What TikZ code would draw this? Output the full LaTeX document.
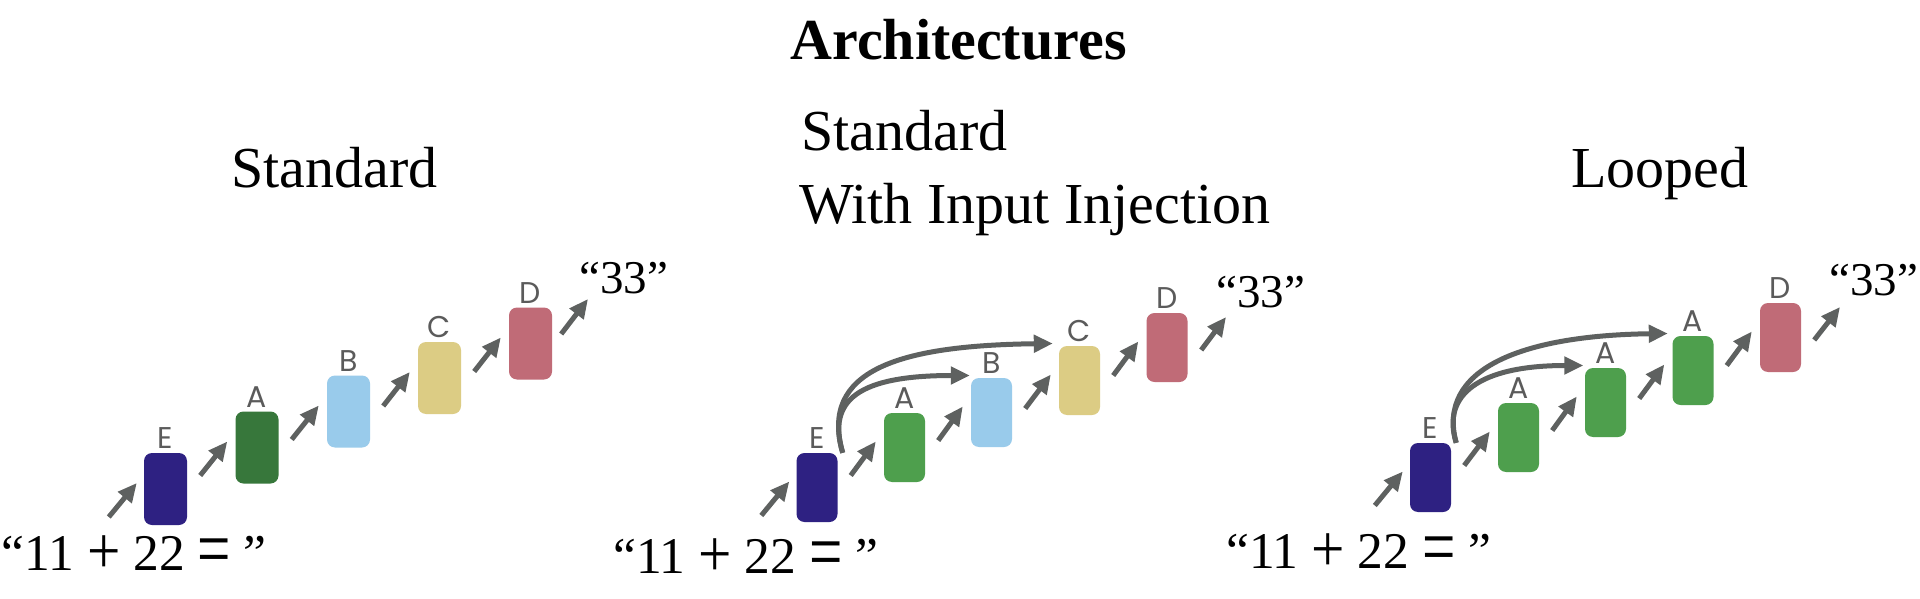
\documentclass[tikz,border=0pt]{standalone}
\usepackage{fontspec}
\setmainfont{Liberation Serif}
\newfontfamily\labfont{Poppins}
\usetikzlibrary{arrows.meta,calc}
\definecolor{cE}{HTML}{2E2182}
\definecolor{cAdark}{HTML}{37773B}
\definecolor{cA}{HTML}{4E9F4D}
\definecolor{cB}{HTML}{99CBEB}
\definecolor{cC}{HTML}{DCCC84}
\definecolor{cD}{HTML}{C06B77}
\definecolor{arrgray}{HTML}{5E6160}
\definecolor{labgray}{HTML}{5B5B5B}
\newcommand\myplus{\raisebox{-0.06em}{\scalebox{1.15}[1.3]{+}}}
\newcommand\myeq{\raisebox{-0.13em}{\scalebox{1.15}[1.6]{=}}}
\newcommand\inputtext{“11 \myplus{} 22 \myeq{} ”}
\tikzset{
  blk/.style={rectangle, rounded corners=8pt, inner sep=0pt, minimum width=41pt, minimum height=69pt},
  bigblk/.style={blk, minimum width=43pt, minimum height=72pt},
  lab/.style={font={\fontsize{30pt}{30pt}\labfont}, text=labgray, inner sep=0pt},
  arr/.style={draw=arrgray, line width=5pt, -{Triangle[length=19pt,width=17pt]}},
  hdr/.style={font=\fontsize{58}{60}\selectfont, inner sep=0pt, anchor=base west},
  inp/.style={font=\fontsize{51.5}{52}\selectfont, inner sep=0pt, anchor=base west},
  outp/.style={font=\fontsize{47}{48}\selectfont, inner sep=0pt, anchor=base west},
}
\begin{document}
\begin{tikzpicture}[x=1pt,y=-1pt,label distance=4pt]
\useasboundingbox[fill=white] (0,0) rectangle (1920,599);

% titles
\node[font=\bfseries\fontsize{58}{60}\selectfont, anchor=base, inner sep=0pt] (title) at (958.5,60) {Architectures};
\node[hdr] (h1) at (231,187) {Standard};
\node[hdr] (h2a) at (801,150) {Standard};
\node[hdr] (h2b) at (799,223) {With Input Injection};
\node[hdr] (h3) at (1571,187) {Looped};

% inputs / outputs
\node[inp] (in1) at (1.5,570) {\inputtext};
\node[inp] (in2) at (613,573) {\inputtext};
\node[inp] (in3) at (1226,568) {\inputtext};
\node[outp] (out1) at (579,293) {“33”};
\node[outp] (out2) at (1216,307) {“33”};
\node[outp] (out3) at (1829,295) {“33”};

% panel 1
\node[bigblk, fill=cE, label={[lab]above:E}] (pE) at (165.5,489) {};
\node[bigblk, fill=cAdark, label={[lab]above:A}] (pA) at (257,447.5) {};
\node[bigblk, fill=cB, label={[lab]above:B}] (pB) at (348.5,411.5) {};
\node[bigblk, fill=cC, label={[lab]above:C}] (pC) at (439.5,378) {};
\node[bigblk, fill=cD, label={[lab]above:D}] (pD) at (530.5,343.5) {};

% panel 2
\node[blk, fill=cE, label={[lab]above:E}] (qE) at (817,487.5) {};
\node[blk, fill=cA, label={[lab]above:A}] (qA) at (904.5,447.5) {};
\node[blk, fill=cB, label={[lab]above:B}] (qB) at (991.5,412.5) {};
\node[blk, fill=cC, label={[lab]above:C}] (qC) at (1079.5,380.5) {};
\node[blk, fill=cD, label={[lab]above:D}] (qD) at (1167,347.5) {};

% panel 3
\node[blk, fill=cE, label={[lab]above:E}] (rE) at (1430.5,477.5) {};
\node[blk, fill=cA, label={[lab]above:A}] (rA1) at (1518.5,437.5) {};
\node[blk, fill=cA, label={[lab]above:A}] (rA2) at (1605.5,402.5) {};
\node[blk, fill=cA, label={[lab]above:A}] (rA3) at (1693,370.5) {};
\node[blk, fill=cD, label={[lab]above:D}] (rD) at (1780.5,337.5) {};

% input arrows
\foreach \n in {pE,qE,rE}
  \draw[arr] ($(\n.west)+(-35,28)$) -- ($(\n.west)+(-7,-6)$);

% chain arrows
\foreach \s/\t in {pE/pA,pA/pB,pB/pC,pC/pD,qE/qA,qA/qB,qB/qC,qC/qD,rE/rA1,rA1/rA2,rA2/rA3,rA3/rD}
  \draw[arr] ($(\s.east |- \t.west)+(13,28)$) -- ($(\t.west)+(-8,-6)$);

% output arrows
\draw[arr] ($(pD.east)+(9,-9.5)$) -- ($(out1.base west)+(9,6)$);
\draw[arr] ($(qD.east)+(13.5,2.5)$) -- ($(out2.base west)+(10,10)$);
\draw[arr] ($(rD.east)+(13,2.5)$) -- ($(out3.base west)+(11,12)$);

% input injection curves, panel 2
\draw[arr] ($(qE.north east)+(5,0)$) .. controls +(-16,-53) and +(-111,0) .. ($(qB.west)+(-1,-37)$);
\draw[arr] ($(qE.north east)+(5,0)$) .. controls +(-24,-83) and +(-153,2) .. ($(qC.west)+(-6,-37)$);

% looped curves, panel 3
\draw[arr] ($(rE.north east)+(5,0)$) .. controls +(-15,-48) and +(-104,0) .. ($(rA2.west)+(-1.5,-37)$);
\draw[arr] ($(rE.north east)+(5,0)$) .. controls +(-20,-73) and +(-148,2) .. ($(rA3.west)+(-4.5,-37)$);
\end{tikzpicture}
\end{document}
